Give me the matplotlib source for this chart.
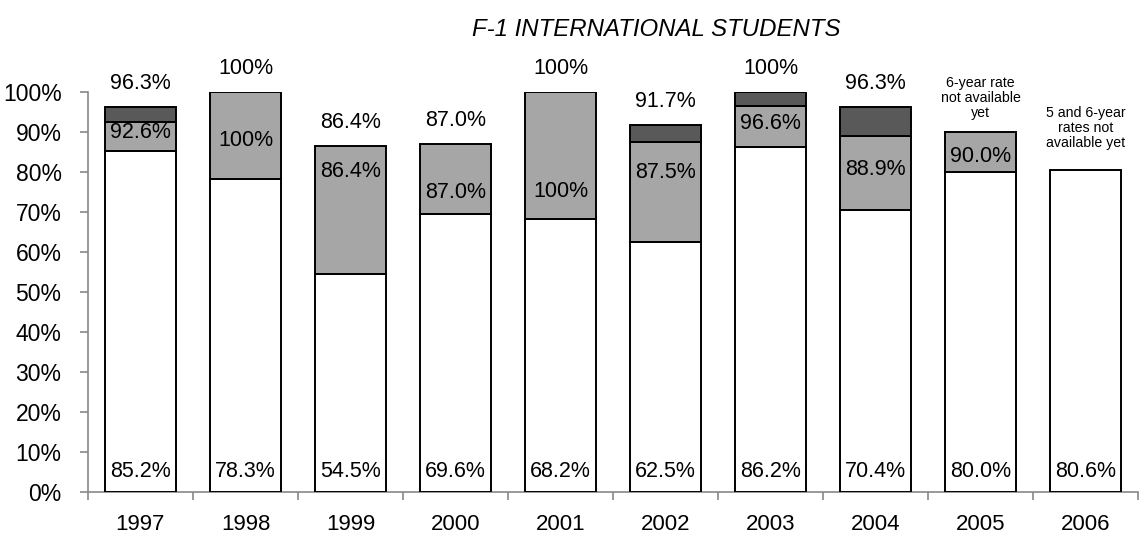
import numpy as np
import matplotlib.pyplot as plt

plt.rcParams['font.family'] = ['Liberation Sans', 'DejaVu Sans']

years = ['1997', '1998', '1999', '2000', '2001', '2002', '2003', '2004', '2005', '2006']
# cumulative graduation rates (%)
rate4 = [85.2, 78.3, 54.5, 69.6, 68.2, 62.5, 86.2, 70.4, 80.0, 80.6]
rate5 = [92.6, 100, 86.4, 87.0, 100, 87.5, 96.6, 88.9, 90.0, np.nan]
rate6 = [96.3, 100, 86.4, 87.0, 100, 91.7, 100, 96.3, np.nan, np.nan]
# where the 5-year labels sit inside the grey segments
mid_label_y = [89.8, 87.8, 80.0, 74.8, 75.0, 79.8, 92.0, 80.5, 83.8]
notes = {8: '6-year rate\nnot available\nyet', 9: '5 and 6-year\nrates not\navailable yet'}
note_y = [98.5, 91.0]

x = np.arange(len(years))
r4 = np.array(rate4)
r5 = np.array(rate5)
r6 = np.array(rate6)

fig = plt.figure(figsize=(11.42, 5.43), dpi=100)
ax = fig.add_axes([0.077, 0.094, 0.9195, 0.7366])

w = 0.67
ec = 'black'
lw = 1.4
ax.bar(x, r4, w, color='white', edgecolor=ec, linewidth=lw, zorder=3)
m5 = ~np.isnan(r5)
ax.bar(x[m5], (r5 - r4)[m5], w, bottom=r4[m5], color='#a6a6a6', edgecolor=ec, linewidth=lw, zorder=3)
m6 = ~np.isnan(r6)
d6 = (r6 - r5)[m6]
ax.bar(x[m6][d6 > 0], d6[d6 > 0], w, bottom=r5[m6][d6 > 0], color='#595959',
       edgecolor=ec, linewidth=lw, zorder=3)

fs = 15.5
for i in range(len(years)):
    ax.text(x[i], 5, f'{rate4[i]:.1f}%', ha='center', va='center', fontsize=fs, zorder=4)
for i in range(len(years)):
    if m5[i]:
        lab = '100%' if rate5[i] == 100 else f'{rate5[i]:.1f}%'
        ax.text(x[i], mid_label_y[i], lab, ha='center', va='center', fontsize=fs, zorder=4)
    if m6[i]:
        lab = '100%' if rate6[i] == 100 else f'{rate6[i]:.1f}%'
        ax.annotate(lab, (x[i], rate6[i]), xytext=(0, 17), textcoords='offset points',
                    ha='center', va='center', fontsize=fs, annotation_clip=False)
for (i, t), ny in zip(notes.items(), note_y):
    ax.text(x[i], ny, t, ha='center', va='center', fontsize=10.2, linespacing=1.1,
            clip_on=False)

ax.set_xlim(-0.5, len(years) - 0.5)
ax.set_ylim(0, 100)
ax.set_yticks(np.arange(0, 101, 10))
ax.set_yticklabels([f'{v}%' for v in range(0, 101, 10)], fontsize=16.5)
ax.set_xticks(x)
ax.set_xticklabels(years, fontsize=16)
ax.set_xticks(np.arange(-0.5, len(years)), minor=True)
ax.tick_params(axis='x', which='major', length=0, pad=16)
ax.tick_params(axis='x', which='minor', length=6, color='#888888', width=1.2)
ax.tick_params(axis='y', length=6, color='#888888', width=1.2, pad=13)

for s in ['top', 'right']:
    ax.spines[s].set_visible(False)
for s in ['left', 'bottom']:
    ax.spines[s].set_color('#888888')
    ax.spines[s].set_linewidth(1.2)

fig.text(656 / 1142, 1 - 30 / 543, 'F-1 INTERNATIONAL STUDENTS', ha='center', va='center',
         fontsize=17.3, style='italic')

fig.savefig('out.png', dpi=100)
